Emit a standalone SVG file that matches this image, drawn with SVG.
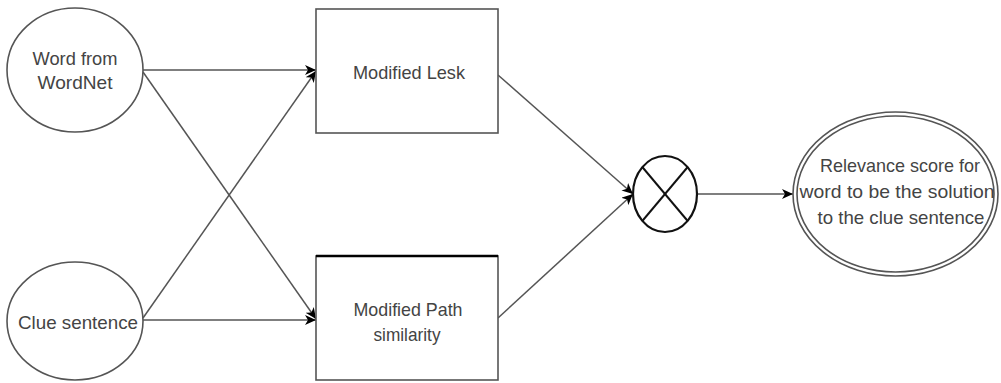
<svg xmlns="http://www.w3.org/2000/svg" width="1001" height="383" viewBox="0 0 1001 383">
<style>
.shape{fill:#fff;stroke:#555;stroke-width:1.6}
.conn{fill:none;stroke:#555;stroke-width:1.5}
.lbl{font-family:"Liberation Sans",Arial,sans-serif;font-size:19px;fill:#444;text-anchor:middle}
</style>
<defs>
<marker id="arr" markerUnits="userSpaceOnUse" markerWidth="12" markerHeight="10" refX="11" refY="5" orient="auto">
<path d="M0,0 L11,5 L0,10 L3,5 z" fill="#000"/>
</marker>
</defs>
<rect width="1001" height="383" fill="#fff"/>
<g id="connectors">
<line class="conn" x1="143" y1="70" x2="316" y2="70" marker-end="url(#arr)"/>
<line class="conn" x1="143" y1="72" x2="316" y2="319" marker-end="url(#arr)"/>
<line class="conn" x1="143" y1="318" x2="316" y2="71" marker-end="url(#arr)"/>
<line class="conn" x1="143" y1="320" x2="316" y2="320" marker-end="url(#arr)"/>
<line class="conn" x1="498" y1="75" x2="633" y2="194" marker-end="url(#arr)"/>
<line class="conn" x1="498" y1="318" x2="633" y2="194" marker-end="url(#arr)"/>
<line class="conn" x1="698" y1="194" x2="793" y2="194" marker-end="url(#arr)"/>
</g>
<g id="word">
<ellipse class="shape" cx="75" cy="70" rx="68" ry="62"/>
<text class="lbl" x="75" y="65" textLength="85" lengthAdjust="spacingAndGlyphs">Word from</text>
<text class="lbl" x="75" y="89" textLength="75" lengthAdjust="spacingAndGlyphs">WordNet</text>
</g>
<g id="clue">
<ellipse class="shape" cx="75" cy="321" rx="68" ry="59"/>
<text class="lbl" x="78" y="329" textLength="120" lengthAdjust="spacingAndGlyphs">Clue sentence</text>
</g>
<g id="lesk">
<rect class="shape" x="316" y="9" width="182" height="124"/>
<text class="lbl" x="409" y="79" textLength="112" lengthAdjust="spacingAndGlyphs">Modified Lesk</text>
</g>
<g id="path">
<rect class="shape" x="316" y="256" width="182" height="124"/>
<line x1="316" y1="256" x2="498" y2="256" stroke="#000" stroke-width="2.5"/>
<text class="lbl" x="408" y="316" textLength="109" lengthAdjust="spacingAndGlyphs">Modified Path</text>
<text class="lbl" x="407" y="341" textLength="67" lengthAdjust="spacingAndGlyphs">similarity</text>
</g>
<g id="combine">
<ellipse cx="665" cy="194" rx="32" ry="38" fill="#fff" stroke="#111" stroke-width="2.2"/>
<line x1="642.4" y1="167.1" x2="687.6" y2="220.9" stroke="#111" stroke-width="2.2"/>
<line x1="687.6" y1="167.1" x2="642.4" y2="220.9" stroke="#111" stroke-width="2.2"/>
</g>
<g id="relevance">
<ellipse class="shape" cx="895.5" cy="194" rx="102.5" ry="82"/>
<ellipse class="shape" cx="895.5" cy="194" rx="98.5" ry="78"/>
<text class="lbl" x="900" y="172" textLength="160" lengthAdjust="spacingAndGlyphs">Relevance score for</text>
<text class="lbl" x="897" y="198" textLength="195" lengthAdjust="spacingAndGlyphs">word to be the solution</text>
<text class="lbl" x="901" y="224" textLength="167" lengthAdjust="spacingAndGlyphs">to the clue sentence</text>
</g>
</svg>
